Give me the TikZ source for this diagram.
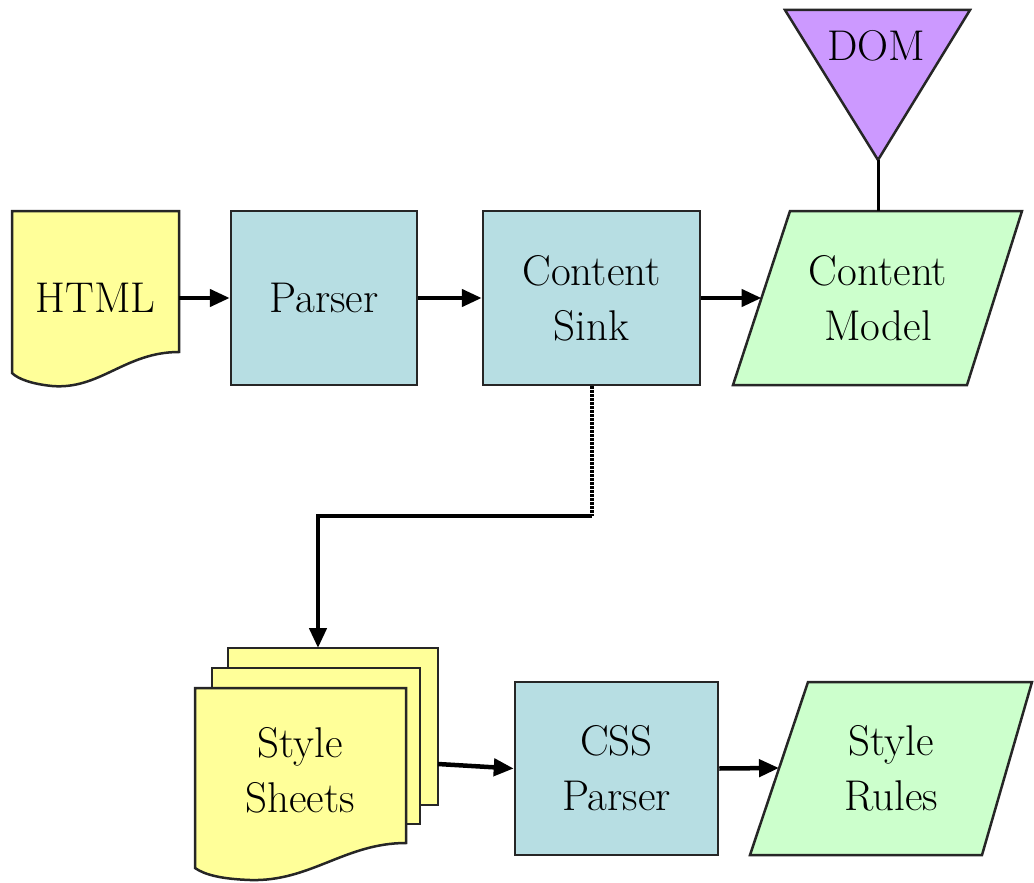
\documentclass[tikz,border=0pt]{standalone}
\usetikzlibrary{arrows.meta}
\definecolor{docyellow}{HTML}{FFFF99}
\definecolor{procblue}{HTML}{B7DEE3}
\definecolor{datagreen}{HTML}{CCFFCC}
\definecolor{dompurple}{HTML}{CC99FF}
\begin{document}
\begin{tikzpicture}[x=1pt,y=-1pt,
  shapeline/.style={draw=black!85, line width=2.5pt, line join=miter},
  procbox/.style={shapeline, fill=procblue, minimum width=#1, minimum height=174pt, inner sep=0pt},
  lbl/.style={font=\fontsize{43}{55}\selectfont, align=center, inner sep=0pt},
  conn/.style={line width=4.5pt, -{Triangle[length=20pt,width=17pt]}},
  plainconn/.style={line width=3pt},
  dotconn/.style={line width=4pt, dash pattern=on 2.5pt off 1.5pt}
]
\useasboundingbox (0,0) rectangle (1034,883);

% HTML document
\draw[shapeline, fill=docyellow] (12,211) -- (179,211) -- (179,352)
  .. controls (125,352) and (100,390) .. (52,386)
  .. controls (32,384) and (18,379) .. (12,373) -- cycle;
\node[lbl] (html) at (95.5,298) {HTML};
\coordinate (htmlout) at (179,298);

% Parser
\node[procbox=186pt, lbl] (parser) at (324,298) {Parser};

% Content Sink
\node[procbox=217pt, lbl] (sink) at (591.5,298) {Content\\Sink};

% Content Model
\draw[shapeline, fill=datagreen] (790,211) -- (1022,211) -- (967,385) -- (733,385) -- cycle;
\node[lbl] (cmodel) at (878,298) {Content\\Model};
\coordinate (cmin) at (761.5,298);
\coordinate (cmtop) at (878,211);

% DOM
\draw[shapeline, fill=dompurple] (785,10) -- (970,10) -- (878,160) -- cycle;
\node[lbl] (dom) at (876,46) {DOM};
\coordinate (domtip) at (878,160);

% Style Sheets (multi-document)
\draw[shapeline, fill=docyellow] (228,648) rectangle (438,805);
\draw[shapeline, fill=docyellow] (212,668) rectangle (420,824);
\draw[shapeline, fill=docyellow] (195,688) -- (406,688) -- (406,843)
  .. controls (345,843) and (310,882) .. (250,880)
  .. controls (222,879) and (205,875) .. (195,868) -- cycle;
\node[lbl] (sheets) at (300,770) {Style\\Sheets};
\coordinate (sheetstop) at (318,648);
\coordinate (sheetsout) at (438,764);

% CSS Parser
\node[procbox=203pt, lbl, minimum height=173pt] (css) at (616.5,768.5) {CSS\\Parser};

% Style Rules
\draw[shapeline, fill=datagreen] (808,682) -- (1032,682) -- (982,855) -- (750,855) -- cycle;
\node[lbl] (rules) at (891,768) {Style\\Rules};
\coordinate (rulesin) at (779,768);

% connectors
\draw[conn] (htmlout) -- (parser.west);
\draw[conn] (parser.east) -- (sink.west);
\draw[conn] (sink.east) -- (cmin);
\draw[plainconn] (domtip) -- (cmtop);
\coordinate (bend) at (591.5,516);
\draw[dotconn] (sink.south) -- (bend);
\draw[conn, line join=miter] (bend) -- (bend -| sheetstop) -- (sheetstop);
\draw[conn] (sheetsout) -- (css.west);
\draw[conn] (css.east) -- (rulesin);
\end{tikzpicture}
\end{document}
